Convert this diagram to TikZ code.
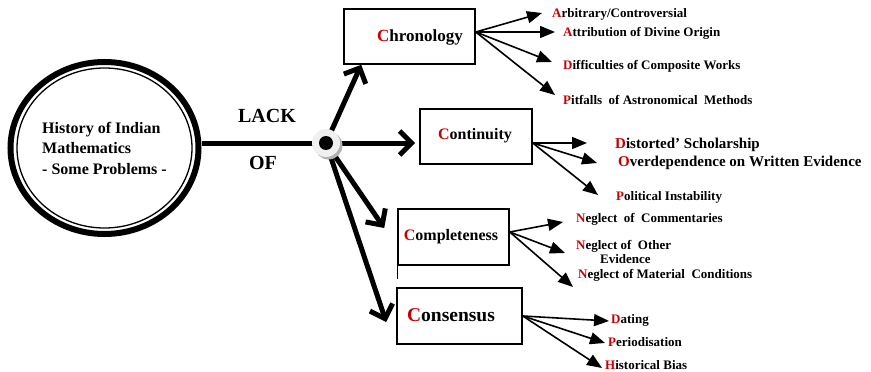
\documentclass[tikz,border=0pt]{standalone}
\usepackage{fontspec}
\setmainfont{Liberation Serif}
\usetikzlibrary{arrows.meta,shapes.geometric}
\definecolor{initred}{RGB}{200,0,0}
\newcommand{\ini}[1]{\textcolor{initred}{#1}}

\begin{document}
\begin{tikzpicture}[x=1pt,y=-1pt,
  font=\bfseries,
  box/.style={draw, line width=1.6pt, rectangle, inner sep=0pt},
  heading/.style={inner sep=0pt, font=\bfseries\fontsize{#1}{#1}\selectfont},
  heavy/.style={line width=5pt, -{Straight Barb[length=12pt,width=24pt]}},
  light/.style={line width=1.6pt, -{Triangle[length=15pt,width=12pt]}},
  item/.style={anchor=west, inner sep=0pt, font=\bfseries\fontsize{13}{14}\selectfont},
  bigitem/.style={anchor=west, inner sep=0pt, font=\bfseries\fontsize{15}{17}\selectfont},
]
\useasboundingbox (0,0) rectangle (871,372);

% central topic
\node[ellipse, draw, line width=6pt, minimum width=188pt, minimum height=172pt,
      inner sep=0pt, align=left, font=\bfseries\fontsize{16}{20.5}\selectfont]
  (topic) at (104.5,148) {History of Indian\\Mathematics\\- Some Problems -};
\draw[line width=1.3pt] (topic.center) ellipse [x radius=87.5, y radius=80];

% hub
\coordinate (hubc) at (326,143);

% the four boxes
\node[box, minimum width=131pt, minimum height=55pt] (chron) at (409.5,36.5) {};
\node[box, minimum width=112pt, minimum height=55pt] (cont)  at (476,136.5) {};
\node[box, minimum width=111pt, minimum height=56pt] (compl) at (453.5,237) {};
\node[box, minimum width=125pt, minimum height=56pt] (cons)  at (459.5,316) {};
\draw[line width=0.8pt] (compl.south west) -- ++(0,13);

\node[heading=17]   (chron-t) at (420,37)  {\ini{C}hronology};
\node[heading=16]   (cont-t)  at (475,136) {\ini{C}ontinuity};
\node[heading=16]   (compl-t) at (451,237) {\ini{C}ompleteness};
\node[heading=19.5] (cons-t)  at (451,315) {\ini{C}onsensus};

% LACK OF
\node[heading=20] (lack) at (267,116) {LACK};
\node[heading=20] (of)   at (263,163) {OF};

% heavy connectors
\draw[line width=5pt] (topic.east |- hubc) -- (hubc);
\draw[heavy] (hubc) -- ([xshift=18pt]chron.south west);
\draw[heavy, shorten >=4pt] (hubc) -- (cont.west |- hubc);
\draw[heavy] (hubc) -- ([xshift=-13pt,yshift=9pt]compl.west);
\draw[heavy] (hubc) -- ([xshift=-10pt,yshift=-6pt]cons.west);

% hub disc
\fill[gray!60] ([xshift=2.5pt,yshift=-2.5pt]hubc) circle [radius=14];
\node[circle, fill=gray!12, minimum size=28pt, inner sep=0pt] (hub) at (hubc) {};
\node[circle, fill=black, minimum size=14pt, inner sep=0pt] (hubdot) at (hubc) {};

% Chronology items
\node[item] (arb)  at (552,14)  {\ini{A}rbitrary/Controversial};
\node[item] (attr) at (563,33)  {\ini{A}ttribution of Divine Origin};
\node[item] (diff) at (563,66)  {\ini{D}ifficulties of Composite Works};
\node[item] (pit)  at (563,100) {\ini{P}itfalls \ of Astronomical \ Methods};
\draw[light] ([yshift=4.5pt]chron.east) -- ([xshift=-10pt,yshift=1pt]arb.west);
\draw[light] ([yshift=4.5pt]chron.east) -- ([xshift=-8pt,yshift=1pt]attr.west);
\draw[light] ([yshift=4.5pt]chron.east) -- ([xshift=-11pt,yshift=4pt]diff.west);
\draw[light] ([yshift=4.5pt]chron.east) -- ([xshift=-8pt,yshift=5pt]pit.west);

% Continuity items
\node[bigitem] (dist) at (615,145) {\ini{D}istorted' Scholarship};
\node[bigitem] (over) at (618,163) {\ini{O}verdependence on Written Evidence};
\node[item]    (poli) at (616,197) {\ini{P}olitical Instability};
\draw[light] ([yshift=-6.5pt]cont.east) -- ([xshift=-28pt,yshift=2pt]dist.west);
\draw[light] ([yshift=-6.5pt]cont.east) -- ([xshift=-21pt]over.west);
\draw[light] ([yshift=-6.5pt]cont.east) -- ([xshift=-18pt,yshift=2pt]poli.west);

% Completeness items
\node[item] (comm) at (576,219) {\ini{N}eglect \ of \ Commentaries};
\node[item, align=left] (other) at (576,252) {\ini{N}eglect of \ Other\\\hspace*{24pt}Evidence};
\node[item] (mat)  at (578,275) {\ini{N}eglect of Material \ Conditions};
\draw[light] ([yshift=5pt]compl.east) -- ([xshift=-13pt,yshift=-3pt]comm.west);
\draw[light] ([yshift=5pt]compl.east) -- ([xshift=-11pt,yshift=-1pt]other.west);
\draw[light] ([yshift=5pt]compl.east) -- ([xshift=-5pt,yshift=-12pt]mat.west);

% Consensus items
\node[item] (dat) at (611,320) {\ini{D}ating};
\node[item] (per) at (608,342) {\ini{P}eriodisation};
\node[item] (his) at (605,365) {\ini{H}istorical Bias};
\draw[light] (cons.east) -- ([xshift=-2pt,yshift=-1pt]dat.west);
\draw[light] (cons.east) -- ([xshift=-3pt,yshift=-1pt]per.west);
\draw[light] (cons.east) -- ([xshift=-3pt,yshift=-3pt]his.west);
\end{tikzpicture}
\end{document}
